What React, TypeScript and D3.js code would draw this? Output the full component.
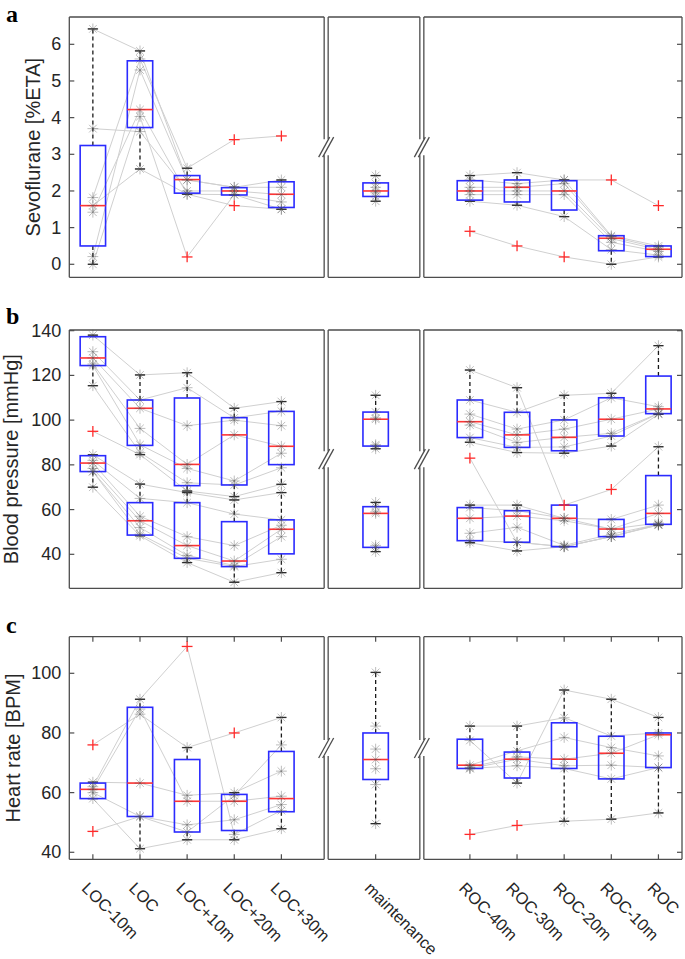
import React from "react";
import * as d3 from "d3";

// ---------- shared categories ----------
const categories = ["LOC-10m", "LOC", "LOC+10m", "LOC+20m", "LOC+30m", "maintenance", "ROC-40m", "ROC-30m", "ROC-20m", "ROC-10m", "ROC"];
const categoryPositions = [1, 2, 3, 4, 5, 7, 9, 10, 11, 12, 13];
const segmentBounds: [number, number][] = [[0.5, 5.95], [5.95, 7.98], [7.98, 13.5]];
const lineGroups = [[0, 1, 2, 3, 4], [5], [6, 7, 8, 9, 10]];

// ---------- panel a: Sevoflurane ----------
const sevoTicks = [0, 1, 2, 3, 4, 5, 6];
const sevoDomain: [number, number] = [-0.355, 6.745];
// [whiskerLo, q1, median, q3, whiskerHi]
const sevoBoxes = [
  [0, 0.5, 1.6, 3.24, 6.42],
  [2.6, 3.73, 4.22, 5.55, 5.82],
  [1.91, 1.94, 2.31, 2.42, 2.62],
  [1.89, 1.89, 2.0, 2.09, 2.1],
  [1.5, 1.55, 1.91, 2.25, 2.3],
  [1.72, 1.85, 2.0, 2.22, 2.42],
  [1.72, 1.75, 2.0, 2.28, 2.42],
  [1.61, 1.7, 2.1, 2.3, 2.5],
  [1.3, 1.48, 2.0, 2.28, 2.3],
  [0, 0.37, 0.71, 0.78, 0.78],
  [0.2, 0.21, 0.41, 0.5, 0.5],
];
const sevoOutliers = [[], [], [0.2], [3.4, 1.6], [3.5], [], [0.9], [0.5], [0.2], [2.3], [1.6]];
const sevoSubjects = [
  [6.42, 5.82, 2.3, 2.1, 2.3, 2.42, 2.42, 2.5, 2.3, 2.3, 1.6],
  [3.7, 3.62, 2.0, 2.0, 1.9, 2.2, 2.3, 2.2, 2.3, 0.78, 0.5],
  [1.82, 5.6, 2.62, 3.4, 3.5, 2.1, 2.1, 2.1, 2.2, 0.75, 0.45],
  [1.42, 4.22, 1.91, 1.9, 1.7, 2.0, 2.0, 2.0, 2.0, 0.7, 0.4],
  [0.21, 5.3, 2.3, 2.1, 2.1, 1.95, 1.9, 1.9, 1.9, 0.6, 0.35],
  [0.0, 4.03, 0.2, 1.9, 1.5, 1.85, 1.72, 1.61, 1.3, 0.4, 0.25],
  [1.6, 2.6, 1.91, 1.6, 1.5, 1.72, 0.9, 0.5, 0.2, 0.0, 0.2],
];

// ---------- panel b: Blood pressure ----------
const bpTicks = [40, 60, 80, 100, 120, 140];
const bpDomain: [number, number] = [24.8, 140.3];
const bpSysBoxes = [
  [115.4, 124.4, 127.8, 137.3, 138],
  [84.6, 88.7, 105.3, 109, 120.2],
  [68.3, 70.7, 80.2, 109.9, 121.2],
  [65.8, 71, 93.4, 101.1, 105.3],
  [71.3, 80.1, 88.3, 103.9, 108.3],
  [87.2, 88.4, 100.4, 103.6, 111.1],
  [90.1, 92.2, 99.3, 109, 122.4],
  [85.5, 87.8, 93.4, 103.5, 114.5],
  [85.2, 86.3, 92.3, 100.1, 111.1],
  [88.4, 92.9, 100.4, 110, 112],
  [102.6, 102.9, 105, 119.7, 133.3],
];
const bpDiaBoxes = [
  [70, 77, 80.8, 84.1, 84.5],
  [48.3, 48.6, 55, 63.1, 71.4],
  [36.3, 38.2, 43.9, 63.1, 67.6],
  [27.5, 34.5, 37, 54.6, 64.3],
  [31.8, 40.2, 51.2, 55.4, 67.6],
  [41.2, 43.1, 58.3, 61.3, 63.2],
  [45.2, 46.1, 56.1, 60.9, 62],
  [41.5, 45.4, 57.1, 59.5, 62],
  [43.4, 43.4, 56.1, 62, 62],
  [47.9, 47.9, 51.3, 55.6, 55.6],
  [53.1, 53.4, 58.3, 75.2, 88.1],
];
const bpOutliers = [[95], [], [], [], [], [], [83], [], [62], [69], []];
const bpSubjects = [
  // systolic traces
  [138, 120.2, 121.2, 105.3, 108.3, 111.1, 122.4, 114.5, 62, 69, 88.1],
  [130.6, 109, 114.5, 101, 104, 103.6, 109, 103.5, 111.1, 112, 133.3],
  [127.8, 105.3, 97.5, 100, 97.5, 101, 102.7, 96, 100.1, 110, 106],
  [125.1, 96.3, 80.2, 93.4, 88.3, 100.4, 99.3, 93.4, 96, 100.4, 105],
  [124.4, 89, 78.4, 72.8, 85.2, 89, 97.8, 90, 92.3, 94.1, 103],
  [115.4, 85.5, 72, 71, 78.7, 88.4, 92.2, 87.8, 88, 92.9, 102.9],
  [95, 84.6, 68.3, 65.8, 71.3, 87.2, 90.1, 85.5, 85.2, 88.4, 102.6],
  // diastolic traces
  [84.5, 71.4, 67.6, 64.3, 67.6, 63.2, 83, 45.4, 43.4, 47.9, 53.4],
  [82, 65, 63.1, 58, 55.4, 61.3, 62, 62, 56.1, 55.6, 62],
  [80.8, 57, 47.9, 43.9, 53, 59, 60.9, 59.5, 56.1, 51.3, 58.3],
  [78.4, 55, 43.9, 37, 51.2, 58.3, 56.1, 57.1, 55, 51.3, 54],
  [77, 52, 39.5, 35, 47.9, 44, 49.4, 52.1, 44, 49, 53.4],
  [77, 49, 38.2, 34.5, 37.8, 43.1, 46.1, 45.4, 43.4, 48, 53.1],
  [70, 48.3, 36.3, 27.5, 31.8, 41.2, 45.2, 41.5, 43.4, 47.9, 53.1],
];

// ---------- panel c: Heart rate ----------
const hrTicks = [40, 60, 80, 100];
const hrDomain: [number, number] = [37.65, 112.27];
const hrBoxes = [
  [58, 58, 61.1, 63.2, 63.5],
  [41.2, 52, 63.2, 88.6, 91.3],
  [44.2, 46.8, 57.1, 71.1, 75.1],
  [44.2, 47.3, 57.1, 59.4, 60],
  [47.9, 53.6, 58, 73.8, 85.2],
  [49.6, 64.4, 71.1, 80, 100.3],
  [68.1, 68.1, 69.2, 77.9, 82.3],
  [63.2, 64.9, 71.2, 73.6, 82.3],
  [50.4, 68.1, 71.2, 83.4, 94.4],
  [51.1, 64.6, 73.2, 78.9, 91.3],
  [53.2, 68.4, 79.4, 80, 85.2],
];
const hrOutliers = [[76, 47], [], [109], [80], [], [], [46], [49], [], [], []];
const hrSubjects = [
  [76, 86.3, 75.1, 80, 85.2, 100.3, 82.3, 82.3, 85.1, 79, 80],
  [62, 91.3, 109, 46, 54, 82.3, 77.5, 63.2, 94.4, 91.3, 85.2],
  [63.5, 63.2, 59.1, 60, 67.2, 74.6, 69.2, 74, 78.5, 75.1, 72.3],
  [61.1, 88, 57.1, 57.1, 58.8, 71.1, 68.5, 72, 71.2, 73.2, 79.4],
  [60, 52, 49.2, 50.9, 56, 68, 68.1, 71.2, 69, 69.2, 68.4],
  [58, 41.2, 44.2, 44.2, 47.9, 62.7, 68.1, 69, 68.1, 64.6, 68.4],
  [47, 52, 46.8, 59, 76, 49.6, 46, 49, 50.4, 51.1, 53.2],
];

// ---------- layout ----------
const W = 685;
const H = 959;
const xScale = d3.scaleLinear().domain([0.5, 13.5]).range([69.3, 682]);
const GAP = 2;
const BOX_HALF = 12.7;
const CAP_HALF = 5;
const TICK = 5;
const FONT = "'Liberation Sans', Arial, Helvetica, sans-serif";
const TEXT = "#262626";
const FRAME = "#4d4d4d";

type PanelCfg = {
  letter: string;
  letterY: number;
  label: string;
  labelX: number;
  top: number;
  bottom: number;
  domain: [number, number];
  ticks: number[];
  boxSets: number[][][];
  outliers: number[][];
  subjects: (number | null)[][];
  xTicks: boolean;
};

const panels: PanelCfg[] = [
  { letter: "a", letterY: 22, label: "Sevoflurane [%ETA]", labelX: 40, top: 17, bottom: 277.3, domain: sevoDomain, ticks: sevoTicks, boxSets: [sevoBoxes], outliers: sevoOutliers, subjects: sevoSubjects, xTicks: false },
  { letter: "b", letterY: 323.5, label: "Blood pressure [mmHg]", labelX: 18, top: 330, bottom: 588.3, domain: bpDomain, ticks: bpTicks, boxSets: [bpSysBoxes, bpDiaBoxes], outliers: bpOutliers, subjects: bpSubjects, xTicks: false },
  { letter: "c", letterY: 633, label: "Heart rate [BPM]", labelX: 19.5, top: 636.7, bottom: 859.3, domain: hrDomain, ticks: hrTicks, boxSets: [hrBoxes], outliers: hrOutliers, subjects: hrSubjects, xTicks: true },
];

function Asterisk({ x, y }: { x: number; y: number }) {
  const r = 5.4;
  const d = r * 0.707;
  return (
    <g stroke="rgba(80,80,80,0.42)" strokeWidth={0.9}>
      <line x1={x - r} y1={y} x2={x + r} y2={y} />
      <line x1={x} y1={y - r} x2={x} y2={y + r} />
      <line x1={x - d} y1={y - d} x2={x + d} y2={y + d} />
      <line x1={x - d} y1={y + d} x2={x + d} y2={y - d} />
    </g>
  );
}

function Plus({ x, y }: { x: number; y: number }) {
  const r = 5.4;
  return (
    <g stroke="#ff2a2a" strokeWidth={1.3}>
      <line x1={x - r} y1={y} x2={x + r} y2={y} />
      <line x1={x} y1={y - r} x2={x} y2={y + r} />
    </g>
  );
}

function Panel({ cfg }: { cfg: PanelCfg }) {
  const y = d3.scaleLinear().domain(cfg.domain).range([cfg.bottom, cfg.top]);
  const segs = segmentBounds.map(([a, b], i) => ({
    x0: xScale(a) + (i > 0 ? GAP : 0),
    x1: xScale(b) - (i < segmentBounds.length - 1 ? GAP : 0),
  }));
  const ymid = (cfg.top + cfg.bottom) / 2;
  const lineGen = d3
    .line<[number, number]>()
    .x((d) => xScale(d[0]))
    .y((d) => y(d[1]));

  const brk = 8;
  const frame: JSX.Element[] = [];
  segs.forEach((s, i) => {
    frame.push(<line key={`t${i}`} x1={s.x0} y1={cfg.top} x2={s.x1} y2={cfg.top} />);
    frame.push(<line key={`b${i}`} x1={s.x0} y1={cfg.bottom} x2={s.x1} y2={cfg.bottom} />);
    const edges: [number, boolean][] = [
      [s.x0, i > 0],
      [s.x1, i < segs.length - 1],
    ];
    edges.forEach(([ex, broken], k) => {
      if (broken) {
        frame.push(<line key={`v${i}${k}a`} x1={ex} y1={cfg.top} x2={ex} y2={ymid - brk} />);
        frame.push(<line key={`v${i}${k}b`} x1={ex} y1={ymid + brk} x2={ex} y2={cfg.bottom} />);
        frame.push(<line key={`v${i}${k}d`} x1={ex - 5.5} y1={ymid + brk + 2} x2={ex + 5.5} y2={ymid - brk - 2} />);
      } else {
        frame.push(<line key={`v${i}${k}`} x1={ex} y1={cfg.top} x2={ex} y2={cfg.bottom} />);
      }
    });
  });

  const left = segs[0].x0;
  const right = segs[segs.length - 1].x1;

  return (
    <g>
      {/* subject lines */}
      <g fill="none" stroke="#d0d0d0" strokeWidth={1}>
        {cfg.subjects.map((subj, si) =>
          lineGroups
            .filter((g) => g.length > 1)
            .map((g, gi) => {
              const pts = g
                .filter((ci) => subj[ci] != null)
                .map((ci) => [categoryPositions[ci], subj[ci] as number] as [number, number]);
              return <path key={`${si}-${gi}`} d={lineGen(pts) || ""} />;
            })
        )}
      </g>
      {/* whiskers */}
      {cfg.boxSets.map((boxes, bi) =>
        boxes.map((b, ci) => {
          const cx = xScale(categoryPositions[ci]);
          const [lo, q1, , q3, hi] = b;
          return (
            <g key={`w${bi}-${ci}`} stroke="#1a1a1a" strokeWidth={1.3}>
              <line x1={cx} x2={cx} y1={y(q3)} y2={y(hi)} strokeDasharray="4,3" />
              <line x1={cx} x2={cx} y1={y(q1)} y2={y(lo)} strokeDasharray="4,3" />
              <line x1={cx - CAP_HALF} x2={cx + CAP_HALF} y1={y(hi)} y2={y(hi)} />
              <line x1={cx - CAP_HALF} x2={cx + CAP_HALF} y1={y(lo)} y2={y(lo)} />
            </g>
          );
        })
      )}
      {/* boxes */}
      {cfg.boxSets.map((boxes, bi) =>
        boxes.map((b, ci) => {
          const cx = xScale(categoryPositions[ci]);
          const [, q1, med, q3] = b;
          return (
            <g key={`b${bi}-${ci}`}>
              <rect x={cx - BOX_HALF} y={y(q3)} width={BOX_HALF * 2} height={y(q1) - y(q3)} fill="none" stroke="#2b2bff" strokeWidth={1.6} />
              <line x1={cx - BOX_HALF} x2={cx + BOX_HALF} y1={y(med)} y2={y(med)} stroke="#ff3535" strokeWidth={1.6} />
            </g>
          );
        })
      )}
      {/* subject points */}
      {cfg.subjects.map((subj, si) =>
        subj.map((v, ci) =>
          v == null || cfg.outliers[ci].includes(v) ? null : (
            <Asterisk key={`p${si}-${ci}`} x={xScale(categoryPositions[ci])} y={y(v)} />
          )
        )
      )}
      {/* outliers */}
      {cfg.outliers.map((os, ci) => os.map((v, k) => <Plus key={`o${ci}-${k}`} x={xScale(categoryPositions[ci])} y={y(v)} />))}
      {/* frame */}
      <g stroke={FRAME} strokeWidth={1.3} fill="none">
        {frame}
      </g>
      {/* ticks */}
      <g stroke={FRAME} strokeWidth={1.2}>
        {cfg.ticks.map((t) => (
          <g key={`yt${t}`}>
            <line x1={left} x2={left + TICK} y1={y(t)} y2={y(t)} />
            <line x1={right} x2={right - TICK} y1={y(t)} y2={y(t)} />
          </g>
        ))}
        {cfg.xTicks &&
          categoryPositions.map((p) => (
            <g key={`xt${p}`}>
              <line x1={xScale(p)} x2={xScale(p)} y1={cfg.top} y2={cfg.top + TICK} />
              <line x1={xScale(p)} x2={xScale(p)} y1={cfg.bottom} y2={cfg.bottom - TICK} />
            </g>
          ))}
      </g>
      <g fontFamily={FONT} fontSize={18} fill={TEXT}>
        {cfg.ticks.map((t) => (
          <text key={`yl${t}`} x={left - 8} y={y(t)} textAnchor="end" dominantBaseline="central">
            {t}
          </text>
        ))}
      </g>
      <text
        transform={`translate(${cfg.labelX},${ymid}) rotate(-90)`}
        textAnchor="middle"
        fontFamily={FONT}
        fontSize={20}
        fill={TEXT}
      >
        {cfg.label}
      </text>
      <text x={6} y={cfg.letterY} fontFamily="'Liberation Serif', 'Times New Roman', serif" fontWeight="bold" fontSize={24} fill="#000">
        {cfg.letter}
      </text>
      {cfg.xTicks &&
        categories.map((c, ci) => (
          <text
            key={`xl${ci}`}
            transform={`translate(${xScale(categoryPositions[ci]) - 12},${cfg.bottom + 30}) rotate(45)`}
            textAnchor="start"
            fontFamily={FONT}
            fontSize={16.5}
            fill={TEXT}
          >
            {c}
          </text>
        ))}
    </g>
  );
}

export default function App() {
  return (
    <svg
      width={W}
      height={H}
      viewBox={`0 0 ${W} ${H}`}
      style={{ position: "absolute", left: 0, top: 0, display: "block", background: "#fff" }}
    >
      <rect x={0} y={0} width={W} height={H} fill="#fff" />
      {panels.map((p) => (
        <Panel key={p.letter} cfg={p} />
      ))}
    </svg>
  );
}
